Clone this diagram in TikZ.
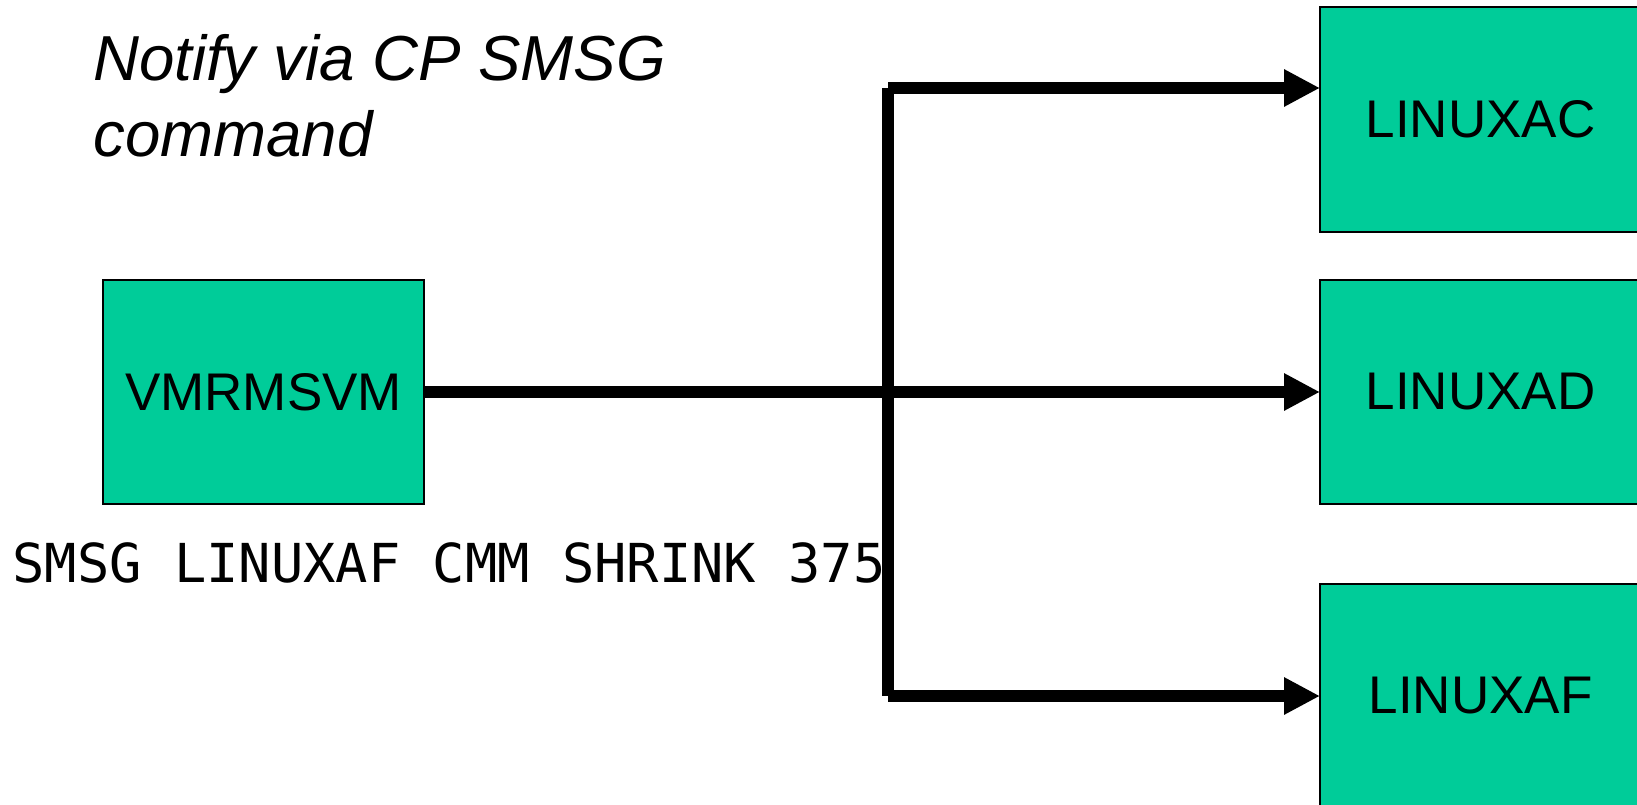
\documentclass[tikz,border=0pt]{standalone}
\usepackage{fontspec}
\setmainfont{Liberation Sans}
\newfontfamily\monofont{DejaVu Sans Mono}
\usetikzlibrary{arrows.meta}
\definecolor{boxgreen}{RGB}{0,204,153}
\tikzset{
  vmbox/.style={draw=black, line width=2pt, fill=boxgreen, outer sep=0pt,
    minimum width=321pt, minimum height=224pt, inner sep=0pt,
    font=\fontsize{53}{60}\selectfont},
  conn/.style={line width=11.5pt, line cap=butt},
  connarrow/.style={conn, -{Triangle[length=36pt,width=35pt]}},
}
\begin{document}
\begin{tikzpicture}[x=1pt, y=-1pt]
  \clip (0,0) rectangle (1637,805);
  % guest boxes
  \node[vmbox] (vm) at (263.5,392) {VMRMSVM};
  \node[vmbox] (ac) at (1480.5,119.5) {LINUXAC};
  \node[vmbox] (ad) at (1480.5,392) {LINUXAD};
  \node[vmbox] (af) at (1480.5,695.5) {LINUXAF};
  % fan-out bus
  \coordinate (jt) at (888,88);
  \coordinate (jb) at (888,696);
  \draw[conn] (jt) -- (jb);
  \draw[connarrow] (vm.east) -- (ad.west);
  \draw[connarrow] (jt) -- (jt -| ac.west);
  \draw[connarrow] (jb) -- (jb -| af.west);
  % labels (base anchor sits on the last line)
  \node[anchor=base west, inner sep=0pt, align=left,
        font=\fontsize{63.6}{76}\selectfont\itshape] (title) at (93,157)
        {Notify via CP SMSG\\command};
  \node[anchor=base, inner sep=0pt, font=\monofont\fontsize{53.7}{60}\selectfont]
        (cmd) at (449,582) {SMSG LINUXAF CMM SHRINK 375};
\end{tikzpicture}
\end{document}
